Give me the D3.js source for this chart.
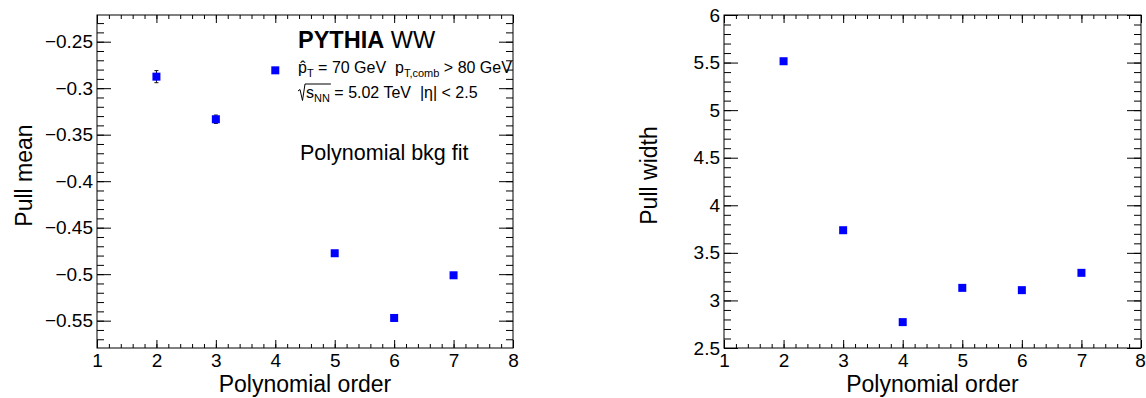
<!DOCTYPE html>
<html>
<head>
<meta charset="utf-8">
<script src="https://cdn.jsdelivr.net/npm/d3@7"></script>
<style>
  body { margin: 0; background: #fff; }
  svg { display: block; font-family: "Liberation Sans", Arial, Helvetica, sans-serif; }
  .pre { white-space: pre; }
</style>
</head>
<body>
<svg id="chart" width="1146" height="398"></svg>
<script>
// Polynomial order of the background fit
const orders = [2, 3, 4, 5, 6, 7];
// Pull distribution mean and its uncertainty
const pullMean    = [-0.2876, -0.3334, -0.2808, -0.4775, -0.5471, -0.5012];
const pullMeanErr = [0.0065, 0.0045, 0.0015, 0.0015, 0.003, 0.0015];
// Pull distribution width and its uncertainty
const pullWidth    = [5.514, 3.738, 2.772, 3.132, 3.108, 3.290];
const pullWidthErr = [0.012, 0.009, 0.006, 0.007, 0.007, 0.008];
// Axis ticks
const xTicks     = [1, 2, 3, 4, 5, 6, 7, 8];
const meanTicks  = [-0.55, -0.5, -0.45, -0.4, -0.35, -0.3, -0.25];
const widthTicks = [2.5, 3, 3.5, 4, 4.5, 5, 5.5, 6];

const svg = d3.select("#chart");

function minorTicks(lo, hi, step) {
  const out = [];
  for (let i = Math.ceil(lo / step - 1e-9); i <= Math.floor(hi / step + 1e-9); i++) {
    out.push(+(i * step).toFixed(6));
  }
  return out;
}

function drawPanel(opt) {
  const { left, right, top, bottom } = opt.frame;
  const x = d3.scaleLinear().domain([1, 8]).range([left, right]);
  const y = d3.scaleLinear().domain(opt.yDomain).range([bottom, top]);
  const g = svg.append("g");

  const xMinor = minorTicks(1, 8, 0.2);
  const yMinor = minorTicks(opt.yDomain[0], opt.yDomain[1], opt.yMinorStep);

  const styleAxis = sel => {
    sel.select(".domain").remove();
    sel.selectAll("line").attr("stroke", "#000").attr("stroke-width", 1);
    sel.selectAll("text").attr("fill", "#000").attr("font-size", 19)
      .attr("font-family", "Liberation Sans, Arial, sans-serif");
  };

  // bottom axis with labels, mirrored on top
  g.append("g").attr("transform", `translate(0,${bottom})`)
    .call(d3.axisBottom(x).tickValues(xMinor).tickSize(-4).tickFormat(""))
    .call(styleAxis);
  const xl = g.append("g").attr("transform", `translate(0,${bottom})`)
    .call(d3.axisBottom(x).tickValues(xTicks).tickSize(-8).tickPadding(4).tickFormat(d3.format("d")))
    .call(styleAxis);
  xl.selectAll("text").attr("dy", null).attr("y", 19);
  if (opt.lastXShift) {
    xl.selectAll("text").filter(d => d === 8).attr("dx", opt.lastXShift);
  }
  g.append("g").attr("transform", `translate(0,${top})`)
    .call(d3.axisTop(x).tickValues(xMinor).tickSize(-4).tickFormat(""))
    .call(styleAxis);
  g.append("g").attr("transform", `translate(0,${top})`)
    .call(d3.axisTop(x).tickValues(xTicks).tickSize(-8).tickFormat(""))
    .call(styleAxis);

  // left axis with labels, mirrored on right
  g.append("g").attr("transform", `translate(${left},0)`)
    .call(d3.axisLeft(y).tickValues(yMinor).tickSize(-7).tickFormat(""))
    .call(styleAxis);
  g.append("g").attr("transform", `translate(${left},0)`)
    .call(d3.axisLeft(y).tickValues(opt.yTicks).tickSize(-14).tickPadding(4).tickFormat(opt.yFormat))
    .call(styleAxis);
  g.append("g").attr("transform", `translate(${right},0)`)
    .call(d3.axisRight(y).tickValues(yMinor).tickSize(-7).tickFormat(""))
    .call(styleAxis);
  g.append("g").attr("transform", `translate(${right},0)`)
    .call(d3.axisRight(y).tickValues(opt.yTicks).tickSize(-14).tickFormat(""))
    .call(styleAxis);

  // frame
  g.append("rect").attr("x", left).attr("y", top)
    .attr("width", right - left).attr("height", bottom - top)
    .attr("fill", "none").attr("stroke", "#000").attr("stroke-width", 1);

  // axis titles
  g.append("text").attr("x", (left + right) / 2).attr("y", 392)
    .attr("text-anchor", "middle").attr("font-size", 23).text("Polynomial order");
  g.append("text")
    .attr("transform", `translate(${opt.yTitleX},${(top + bottom) / 2 - 6}) rotate(-90)`)
    .attr("text-anchor", "middle").attr("font-size", 23).text(opt.yTitle);

  // error bars
  const pts = orders.map((o, i) => ({ o, v: opt.values[i], e: opt.errors[i] }));
  const eb = g.append("g").attr("stroke", "#111").attr("stroke-width", 1);
  pts.forEach(p => {
    const y1 = y(p.v + p.e), y2 = y(p.v - p.e), cx = x(p.o);
    eb.append("line").attr("x1", cx).attr("x2", cx).attr("y1", y1).attr("y2", y2);
    eb.append("line").attr("x1", cx - 2).attr("x2", cx + 2).attr("y1", y1).attr("y2", y1);
    eb.append("line").attr("x1", cx - 2).attr("x2", cx + 2).attr("y1", y2).attr("y2", y2);
  });

  // markers
  g.append("g").selectAll("rect").data(pts).join("rect")
    .attr("x", d => x(d.o) - 4).attr("y", d => y(d.v) - 4)
    .attr("width", 8).attr("height", 8).attr("fill", "#0000ff");

  return g;
}

const leftPanel = drawPanel({
  frame: { left: 97, right: 513, top: 15, bottom: 348 },
  yDomain: [-0.5794, -0.2213],
  yTicks: meanTicks,
  yMinorStep: 0.01,
  yFormat: d3.format(".2~f"),
  yTitle: "Pull mean",
  yTitleX: 32,
  values: pullMean,
  errors: pullMeanErr
});

drawPanel({
  frame: { left: 724, right: 1141, top: 15, bottom: 348 },
  yDomain: [2.5, 6],
  yTicks: widthTicks,
  yMinorStep: 0.1,
  yFormat: d3.format("~g"),
  yTitle: "Pull width",
  yTitleX: 657,
  lastXShift: -1,
  values: pullWidth,
  errors: pullWidthErr
});

// annotation block on the left panel
const ann = leftPanel.append("g").attr("fill", "#000");
const t1 = ann.append("text").attr("class", "pre").attr("x", 298).attr("y", 48).attr("font-size", 23.5);
t1.append("tspan").attr("font-weight", "bold").text("PYTHIA");
t1.append("tspan").text(" WW");

const t2 = ann.append("text").attr("class", "pre").attr("x", 298).attr("y", 73).attr("font-size", 16);
t2.append("tspan").text("p\u0302");
t2.append("tspan").attr("font-size", 11).attr("dy", 4).text("T");
t2.append("tspan").attr("dy", -4).text(" = 70 GeV  p");
t2.append("tspan").attr("font-size", 11).attr("dy", 4).text("T,comb");
t2.append("tspan").attr("dy", -4).text(" > 80 GeV");

const t3 = ann.append("text").attr("class", "pre").attr("x", 306).attr("y", 98).attr("font-size", 16);
t3.append("tspan").text("s");
t3.append("tspan").attr("font-size", 11).attr("dy", 4).text("NN");
t3.append("tspan").attr("dy", -4).text(" = 5.02 TeV  |\u03b7| < 2.5");
// radical sign over s_NN
{
  const nn = t3.selectAll("tspan").nodes();
  const w = nn[0].getComputedTextLength() + nn[1].getComputedTextLength();
  ann.append("path")
    .attr("d", `M298,91 L300,89.5 L302.5,100.5 L305,84 L${306 + w + 1},84`)
    .attr("fill", "none").attr("stroke", "#000").attr("stroke-width", 1);
}

ann.append("text").attr("x", 300).attr("y", 160).attr("font-size", 21.5)
  .text("Polynomial bkg fit");
</script>
</body>
</html>
